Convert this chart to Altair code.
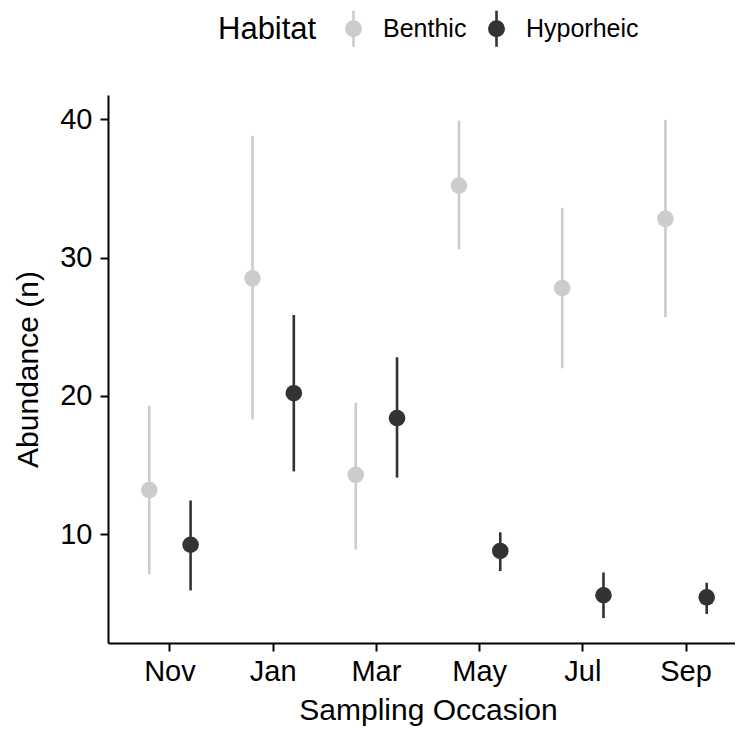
import altair as alt
import pandas as pd

# ---- data ----
months = ["Nov", "Jan", "Mar", "May", "Jul", "Sep"]
habitats = ["Benthic", "Hyporheic"]

benthic_mean = [13.2, 28.5, 14.3, 35.2, 27.8, 32.8]
benthic_low = [7.1, 18.3, 8.9, 30.6, 22.0, 25.7]
benthic_high = [19.3, 38.8, 19.5, 39.9, 33.6, 39.95]

hyporheic_mean = [9.25, 20.2, 18.4, 8.8, 5.6, 5.45]
hyporheic_low = [5.95, 14.55, 14.1, 7.35, 3.95, 4.25]
hyporheic_high = [12.45, 25.85, 22.8, 10.15, 7.25, 6.5]

y_ticks = [10, 20, 30, 40]
colors = ["#cccccc", "#333333"]

rows = []
for hab, means, lows, highs in [
    ("Benthic", benthic_mean, benthic_low, benthic_high),
    ("Hyporheic", hyporheic_mean, hyporheic_low, hyporheic_high),
]:
    for mo, m, lo, hi in zip(months, means, lows, highs):
        rows.append({"Month": mo, "Habitat": hab, "Mean": m, "Low": lo, "High": hi})
df = pd.DataFrame(rows)

# ggplot-like 5% expansion of the data range
lo_all = min(benthic_low + hyporheic_low)
hi_all = max(benthic_high + hyporheic_high)
pad = 0.05 * (hi_all - lo_all)
y_domain = [lo_all - pad, hi_all + pad]

FONT = "Liberation Sans"
legend_symbol = "M-0.4,0A0.4,0.4,0,1,1,0.4,0A0.4,0.4,0,1,1,-0.4,0ZM0,-1L0,1"

x_axis = alt.Axis(
    title="Sampling Occasion", labelFontSize=29, titleFontSize=30,
    titleFontWeight="normal", labelColor="black", titleColor="black",
    tickSize=8, tickWidth=2, tickColor="black", domainWidth=2,
    domainColor="black", labelPadding=6, titlePadding=9, labelAngle=0,
    bandPosition=0.5, grid=False,
)
y_axis = alt.Axis(
    title="Abundance (n)", values=y_ticks, labelFontSize=29, titleFontSize=30,
    titleFontWeight="normal", labelColor="black", titleColor="black",
    tickSize=8, tickWidth=2, tickColor="black", domainWidth=2,
    domainColor="black", labelPadding=8, titlePadding=16, grid=False,
)

x_enc = alt.X(
    "Month:N", sort=months,
    scale=alt.Scale(domain=months, range=[0, 640], paddingOuter=0.1, paddingInner=0),
    axis=x_axis,
)
xoff_enc = alt.XOffset(
    "Habitat:N",
    scale=alt.Scale(domain=habitats, paddingOuter=0.25, paddingInner=0),
)
y_scale = alt.Scale(domain=y_domain, nice=False, zero=False)

color_enc = alt.Color(
    "Habitat:N",
    scale=alt.Scale(domain=habitats, range=colors),
    legend=alt.Legend(
        title="Habitat", orient="none", legendX=110, legendY=-86,
        direction="horizontal", titleOrient="left", titleFontSize=31,
        titleFontWeight="normal", titleColor="black", titleAnchor="middle",
        titleBaseline="middle", titlePadding=17,
        labelFontSize=25, labelColor="black", labelOffset=10,
        columnPadding=10, padding=0,
        symbolType=legend_symbol, symbolSize=1296, symbolStrokeWidth=2.6,
        symbolStrokeColor={"expr": "scale('color', datum.value)"},
        symbolOpacity=1,
    ),
)

base = alt.Chart(df)

rules = base.mark_rule(strokeWidth=2.6).encode(
    x=x_enc,
    xOffset=xoff_enc,
    y=alt.Y("Low:Q", scale=y_scale, axis=y_axis),
    y2="High:Q",
    color=color_enc,
)

points = base.mark_point(filled=True, size=275, opacity=1).encode(
    x=x_enc,
    xOffset=xoff_enc,
    y=alt.Y("Mean:Q", scale=y_scale, axis=y_axis),
    color=color_enc,
)

chart = (
    alt.layer(rules, points)
    .properties(
        width=627, height=548,
        autosize=alt.AutoSizeParams(type="none"),
        padding={"left": 100, "top": 87, "right": 0, "bottom": 86},
        background="white",
    )
    .configure(font=FONT)
    .configure_view(stroke=None)
)

chart.save("out.html", embed_options={"renderer": "svg", "actions": False})
